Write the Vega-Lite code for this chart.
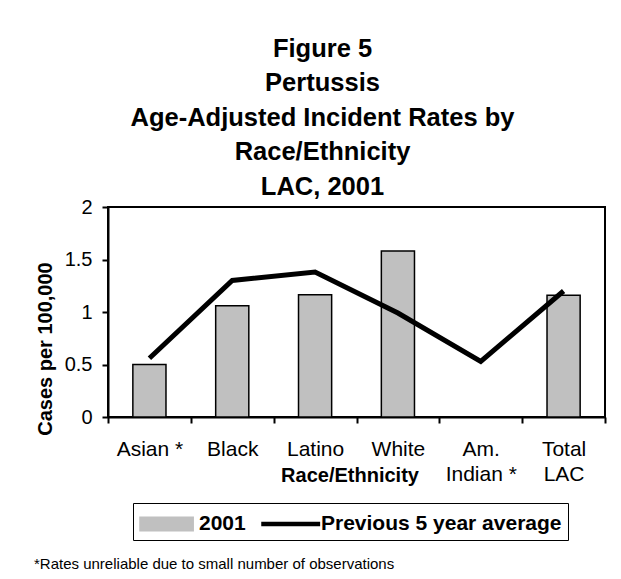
{
  "$schema": "https://vega.github.io/schema/vega-lite/v6.json",
  "padding": {"left": 34, "top": 35, "right": 5, "bottom": 5},
  "background": "white",
  "config": {
    "font": "Liberation Sans",
    "view": {"stroke": "black", "strokeWidth": 2},
    "axis": {
      "domainColor": "black", "domainWidth": 2,
      "tickColor": "black", "tickWidth": 2, "tickSize": 6,
      "labelColor": "black", "titleColor": "black", "grid": false,
      "labelFont": "Liberation Sans", "titleFont": "Liberation Sans"
    },
    "legend": {"strokeColor": "black", "fillColor": "white", "padding": 6}
  },
  "title": {
    "text": "*Rates unreliable due to small number of observations",
    "orient": "bottom", "anchor": "start", "fontSize": 15, "fontWeight": "normal",
    "color": "black", "offset": 15, "font": "Liberation Sans"
  },
  "resolve": {"legend": {"color": "independent"}, "scale": {"color": "independent"}},
  "vconcat": [
    {
      "title": {
        "text": ["Figure 5", "Pertussis", "Age-Adjusted Incident Rates by", "Race/Ethnicity", "LAC, 2001"],
        "fontSize": 25.5, "fontWeight": "bold", "lineHeight": 34.5, "anchor": "middle", "frame": "bounds",
        "color": "black", "offset": -3, "dx": 2, "font": "Liberation Sans"
      },
      "width": 497,
      "height": 210,
      "data": {
        "values": [
          {"race": "Asian *", "series": "2001", "rate": 0.50},
          {"race": "Black", "series": "2001", "rate": 1.06},
          {"race": "Latino", "series": "2001", "rate": 1.165},
          {"race": "White", "series": "2001", "rate": 1.58},
          {"race": "Total LAC", "series": "2001", "rate": 1.16},
          {"race": "Asian *", "series": "Previous 5 year average", "rate": 0.56},
          {"race": "Black", "series": "Previous 5 year average", "rate": 1.30},
          {"race": "Latino", "series": "Previous 5 year average", "rate": 1.38},
          {"race": "White", "series": "Previous 5 year average", "rate": 0.99},
          {"race": "Am. Indian *", "series": "Previous 5 year average", "rate": 0.53},
          {"race": "Total LAC", "series": "Previous 5 year average", "rate": 1.20}
        ]
      },
      "encoding": {
        "x": {
          "field": "race", "type": "nominal",
          "sort": ["Asian *", "Black", "Latino", "White", "Am. Indian *", "Total LAC"],
          "scale": {
            "domain": ["Asian *", "Black", "Latino", "White", "Am. Indian *", "Total LAC"],
            "paddingInner": 0, "paddingOuter": 0
          },
          "axis": {
            "title": "Race/Ethnicity", "titleFontSize": 20, "titleFontWeight": "bold",
            "titleX": 241.5, "titleY": 48.5, "titleBaseline": "top", "titleAlign": "center",
            "labelAngle": 0, "labelFontSize": 21, "labelPadding": 15, "labelLineHeight": 25,
            "tickBand": "extent",
            "labelExpr": "datum.label == 'Am. Indian *' ? ['Am.', 'Indian *'] : datum.label == 'Total LAC' ? ['Total', 'LAC'] : datum.label"
          }
        }
      },
      "layer": [
        {
          "transform": [{"filter": "datum.series == '2001'"}],
          "mark": {"type": "bar", "width": {"band": 0.4}, "stroke": "black", "strokeWidth": 1.5},
          "encoding": {
            "y": {
              "field": "rate", "type": "quantitative",
              "scale": {"domain": [0, 2], "nice": false},
              "axis": {
                "title": "Cases per 100,000", "titleFontSize": 20, "titleFontWeight": "bold",
                "titleX": -63, "titleY": 141.5, "titleBaseline": "middle", "titleAlign": "center", "titleAngle": 270,
                "values": [0, 0.5, 1, 1.5, 2], "format": "~g",
                "labelFontSize": 20, "labelPadding": 10
              }
            },
            "color": {
              "field": "series", "type": "nominal",
              "scale": {"domain": ["2001", "Previous 5 year average"], "range": ["#c0c0c0", "black"]},
              "legend": {
                "title": null, "orient": "none", "legendX": 25, "legendY": 296,
                "direction": "horizontal",
                "labelFontSize": 21, "labelFontWeight": "bold", "labelColor": "black",
                "labelFont": "Liberation Sans", "labelLimit": 500,
                "labelOffset": 30, "columnPadding": 13, "padding": 6,
                "strokeColor": "black", "fillColor": "white", "symbolSize": 784,
                "symbolType": {"expr": "datum.value == '2001' ? 'M-1,-0.48H2.8V0.48H-1Z' : 'M-1,-0.1H3.1V0.1H-1Z'"},
                "labelExpr": "datum.value == 'Previous 5 year average' ? datum.label + '   ' : datum.label"
              }
            }
          }
        },
        {
          "transform": [{"filter": "datum.series != '2001'"}],
          "mark": {"type": "line", "strokeWidth": 5},
          "encoding": {
            "y": {"field": "rate", "type": "quantitative"},
            "color": {
              "field": "series", "type": "nominal",
              "scale": {"domain": ["2001", "Previous 5 year average"], "range": ["#c0c0c0", "black"]},
              "legend": null
            }
          }
        }
      ]
    }
  ]
}
